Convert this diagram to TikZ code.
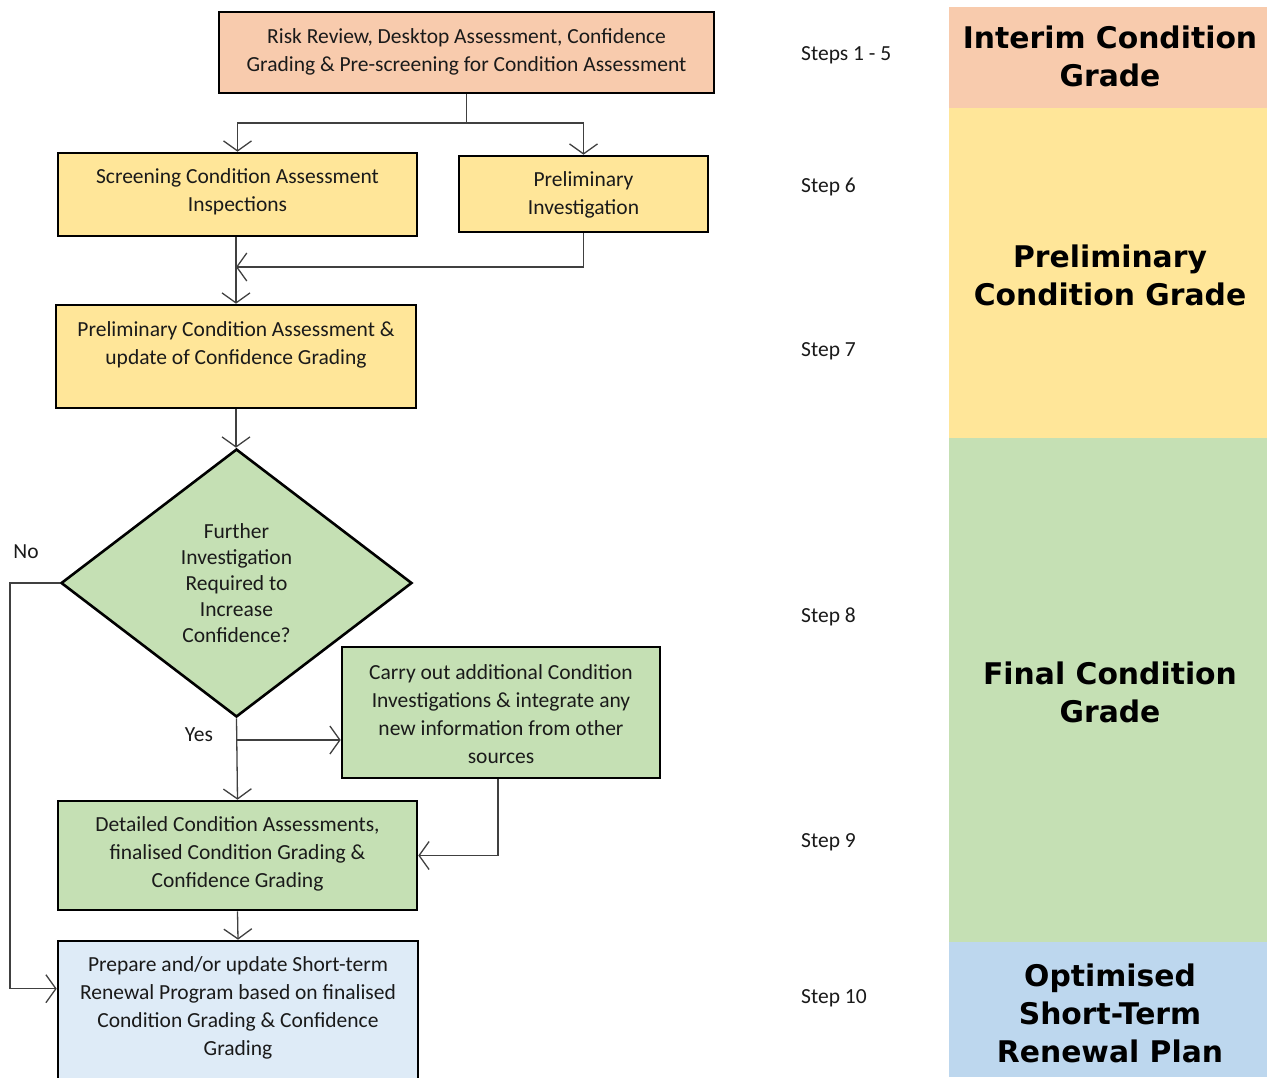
\documentclass[tikz,border=0pt]{standalone}
\usepackage{fontspec}
\setmainfont{Carlito}
\newfontfamily\colfont{DejaVu Sans}
\usetikzlibrary{arrows.meta,shapes.geometric}
\definecolor{peach}{HTML}{F8CBAD}
\definecolor{sand}{HTML}{FFE699}
\definecolor{sage}{HTML}{C5E0B4}
\definecolor{sky}{HTML}{BDD7EE}
\definecolor{pale}{HTML}{DEEBF7}
\definecolor{ink}{HTML}{1A1A1A}
\definecolor{wire}{HTML}{404040}
\begin{document}
\begin{tikzpicture}[x=1pt,y=-1pt,
  box/.style={draw=black,line width=2.6pt,align=center,text=ink,inner sep=0pt,
    font=\fontsize{21.5}{28}\selectfont},
  boxtext/.style={text=ink,align=center,inner sep=0pt,font=\fontsize{21.5}{28}\selectfont},
  flow/.style={draw=wire,line width=1.3pt,-{Straight Barb[length=10pt,width=28pt,line width=1.3pt]}},
  link/.style={draw=wire,line width=1.3pt},
  steplabel/.style={anchor=west,text=ink,inner sep=0pt,font=\fontsize{21.5}{24}\selectfont},
  band/.style={inner sep=0pt,align=center,text=black,
    font=\colfont\bfseries\fontsize{29.8}{38}\selectfont}]
\useasboundingbox (0,0) rectangle (1271,1077);
\fill[white] (0,0) rectangle (1271,1077);

% right-hand grade bands
\fill[peach] (949,7) rectangle (1267,108);
\fill[sand] (949,108) rectangle (1267,438);
\fill[sage] (949,438) rectangle (1267,942);
\fill[sky] (949,942) rectangle (1267,1077);
\node[band] (bInterim) at (1110,56) {Interim Condition\\Grade};
\node[band] (bPrelim) at (1110,275) {Preliminary\\Condition Grade};
\node[band] (bFinal) at (1110,692) {Final Condition\\Grade};
\node[band] (bPlan) at (1110,1013) {Optimised\\Short-Term\\Renewal Plan};

% step labels
\node[steplabel] (s1) at (801,55) {Steps 1 - 5};
\node[steplabel] (s6) at (801,187) {Step 6};
\node[steplabel] (s7) at (801,351) {Step 7};
\node[steplabel] (s8) at (801,617) {Step 8};
\node[steplabel] (s9) at (801,842) {Step 9};
\node[steplabel] (s10) at (801,998) {Step 10};

% process boxes
\node[box,fill=peach,minimum width=495pt,minimum height=81pt] (risk) at (466.5,52.5) {};
\node[boxtext] (risktext) at (466.5,52)
  {Risk Review, Desktop Assessment, Confidence\\Grading \& Pre-screening for Condition Assessment};
\node[box,fill=sand,minimum width=359pt,minimum height=83pt] (screen) at (237.5,194.5) {};
\node[boxtext] (screentext) at (237.5,191.5) {Screening Condition Assessment\\Inspections};
\node[box,fill=sand,minimum width=249pt,minimum height=76pt] (prelinv) at (583.5,194) {};
\node[boxtext] (prelinvtext) at (583.5,195) {Preliminary\\Investigation};
\node[box,fill=sand,minimum width=360pt,minimum height=103pt] (prelca) at (236,356.5) {};
\node[boxtext] (prelcatext) at (236,345)
  {Preliminary Condition Assessment \&\\update of Confidence Grading};
\node[box,fill=sage,shape=diamond,minimum width=351pt,minimum height=268pt] (dec) at (236.5,583) {};
\node[boxtext,font=\fontsize{21.5}{26}\selectfont] (dectext) at (236.5,583)
  {Further\\Investigation\\Required to\\Increase\\Confidence?};
\node[box,fill=sage,minimum width=318pt,minimum height=131pt] (extra) at (501,712.5) {};
\node[boxtext] (extratext) at (501,714)
  {Carry out additional Condition\\Investigations \& integrate any\\new information from other\\sources};
\node[box,fill=sage,minimum width=359pt,minimum height=109pt] (detail) at (237.5,855.5) {};
\node[boxtext] (detailtext) at (237.5,854)
  {Detailed Condition Assessments,\\finalised Condition Grading \&\\Confidence Grading};
\node[box,fill=pale,minimum width=360pt,minimum height=150pt] (plan) at (238,1016) {};
\node[boxtext] (plantext) at (238,1008)
  {Prepare and/or update Short-term\\Renewal Program based on finalised\\Condition Grading \& Confidence\\Grading};

% decision labels
\node[text=ink,inner sep=0pt,font=\fontsize{21.5}{24}\selectfont] (noLbl) at (26,552) {No};
\node[text=ink,inner sep=0pt,font=\fontsize{21.5}{24}\selectfont] (yesLbl) at (199,735) {Yes};

% connectors
\coordinate (split) at (466.5,123);
\coordinate (merge) at (583.5,267);
\coordinate (yesfork) at (237,740);
\coordinate (noRail) at (10,583);
\draw[link] (risk.south) -- (split);
\draw[flow] (split) -| (screen.north);
\draw[flow] (split) -| (prelinv.north);
\draw[flow] (prelca.north |- screen.south) -- (prelca.north);
\draw[flow] (prelinv.south) -- (merge) -- (prelca.north |- merge);
\draw[flow] (prelca.south) -- (prelca.south |- dec.north);
\draw[flow] (dec.south) -- (detail.north);
\draw[flow] (yesfork) -- (extra.west |- yesfork);
\draw[flow] (extra.south -| 498,0) |- (detail.east);
\draw[flow] (detail.south) -- (plan.north);
\draw[flow] (dec.west) -- (noRail) |- ([yshift=-49pt]plan.north west);
\end{tikzpicture}
\end{document}
